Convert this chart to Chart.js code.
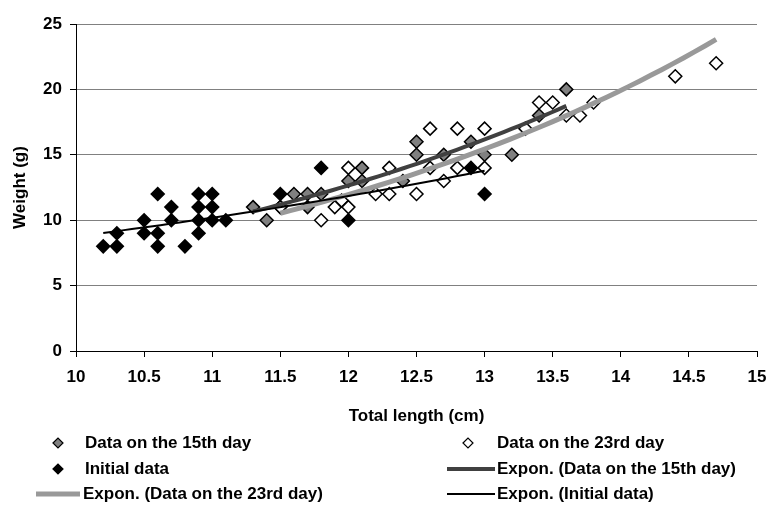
<!DOCTYPE html>
<html>
<head>
<meta charset="utf-8">
<script src="https://cdn.jsdelivr.net/npm/chart.js@4.4.1/dist/chart.umd.min.js"></script>
<style>
  html, body { margin: 0; padding: 0; background: #fff; }
  #wrap { width: 769px; height: 505px; }
</style>
</head>
<body>
<div id="wrap"><canvas id="c"></canvas></div>
<script>
// total length (cm) / weight (g) per sampling day
const day15X = [11.3, 11.4, 11.5, 11.6, 11.7, 11.7, 11.8, 12.0, 12.1, 12.1, 12.4, 12.5, 12.5, 12.7, 12.9, 13.0, 13.2, 13.4, 13.6]
const day15Y = [11, 10, 11, 12, 12, 11, 12, 13, 14, 13, 13, 16, 15, 15, 16, 15, 15, 18, 20]

const day23X = [11.5, 11.8, 11.9, 11.95, 12.0, 12.0, 12.2, 12.3, 12.3, 12.5, 12.6, 12.6, 12.7, 12.8, 12.8, 13.0, 13.0, 13.3, 13.4, 13.5, 13.6, 13.7, 13.8, 14.4, 14.7]
const day23Y = [11, 10, 11, 11.5, 11, 14, 12, 12, 14, 12, 17, 14, 13, 17, 14, 17, 14, 17, 19, 19, 18, 18, 19, 21, 22]

const initX = [10.2, 10.3, 10.3, 10.5, 10.5, 10.6, 10.6, 10.6, 10.7, 10.7, 10.8, 10.9, 10.9, 10.9, 10.9, 11.0, 11.0, 11.0, 11.1, 11.5, 11.8, 12.0, 12.9, 13.0]
const initY = [8, 8, 9, 10, 9, 12, 9, 8, 11, 10, 8, 12, 11, 10, 9, 12, 11, 10, 10, 12, 14, 10, 14, 12]

const xTicks = [10, 10.5, 11, 11.5, 12, 12.5, 13, 13.5, 14, 14.5, 15]
const yTicks = [0, 5, 10, 15, 20, 25]

const FONT = { family: '"Liberation Sans", Arial, sans-serif', size: 17, weight: 'bold' }

const toPoints = (xs, ys) => xs.map((x, i) => ({ x, y: ys[i] }))

// least squares fit of ln(y) = ln(a) + b*x, sampled over the data range
function expTrend(xs, ys, steps = 40) {
  const n = xs.length
  const ly = ys.map(Math.log)
  const mx = xs.reduce((s, v) => s + v, 0) / n
  const my = ly.reduce((s, v) => s + v, 0) / n
  let sxy = 0, sxx = 0
  xs.forEach((x, i) => { sxy += (x - mx) * (ly[i] - my); sxx += (x - mx) ** 2 })
  const b = sxy / sxx
  const a = Math.exp(my - b * mx)
  const lo = Math.min(...xs), hi = Math.max(...xs)
  const pts = []
  for (let i = 0; i <= steps; i++) {
    const x = lo + (hi - lo) * i / steps
    pts.push({ x, y: a * Math.exp(b * x) })
  }
  return pts
}

const marker = { pointStyle: 'rectRot', pointRadius: 6.5, pointBorderWidth: 1.5, pointBorderColor: '#000', showLine: false }
const trend = { showLine: true, pointRadius: 0, fill: false, tension: 0 }

const datasets = [
  { label: 'Expon. (Initial data)', data: expTrend(initX, initY), borderColor: '#000', borderWidth: 2, order: 1, ...trend },
  { label: 'Expon. (Data on the 23rd day)', data: expTrend(day23X, day23Y), borderColor: '#999999', borderWidth: 5, order: 2, ...trend },
  { label: 'Expon. (Data on the 15th day)', data: expTrend(day15X, day15Y), borderColor: '#404040', borderWidth: 4, order: 3, ...trend },
  { label: 'Initial data', data: toPoints(initX, initY), pointBackgroundColor: '#000', order: 4, ...marker },
  { label: 'Data on the 23rd day', data: toPoints(day23X, day23Y), pointBackgroundColor: '#fff', order: 5, ...marker },
  { label: 'Data on the 15th day', data: toPoints(day15X, day15Y), pointBackgroundColor: '#808080', order: 6, ...marker },
]

// two-column legend under the x axis title
const legendSlots = [
  { label: 'Data on the 15th day', x: 58, y: 443, tx: 85 },
  { label: 'Data on the 23rd day', x: 468, y: 443, tx: 497 },
  { label: 'Initial data', x: 58, y: 469, tx: 85 },
  { label: 'Expon. (Data on the 15th day)', x: 447, x2: 495, y: 469, tx: 497 },
  { label: 'Expon. (Data on the 23rd day)', x: 36, x2: 80, y: 494, tx: 83 },
  { label: 'Expon. (Initial data)', x: 447, x2: 495, y: 494, tx: 497 },
]

const legendPlugin = {
  id: 'sideLegend',
  afterDraw(chart) {
    const ctx = chart.ctx
    ctx.save()
    ctx.font = `${FONT.weight} ${FONT.size}px ${FONT.family}`
    ctx.textBaseline = 'middle'
    ctx.fillStyle = '#000'
    legendSlots.forEach(slot => {
      const ds = chart.data.datasets.find(d => d.label === slot.label)
      if (slot.x2) {
        ctx.strokeStyle = ds.borderColor
        ctx.lineWidth = ds.borderWidth
        ctx.beginPath()
        ctx.moveTo(slot.x, slot.y)
        ctx.lineTo(slot.x2, slot.y)
        ctx.stroke()
      } else {
        ctx.fillStyle = ds.pointBackgroundColor
        ctx.strokeStyle = '#000'
        ctx.lineWidth = 1.2
        Chart.helpers.drawPoint(ctx, { pointStyle: 'rectRot', radius: 5, borderWidth: 1.2 }, slot.x, slot.y)
      }
      ctx.fillStyle = '#000'
      ctx.fillText(slot.label, slot.tx, slot.y)
    })
    ctx.restore()
  },
}

new Chart(document.getElementById('c'), {
  type: 'scatter',
  data: { datasets },
  plugins: [legendPlugin],
  options: {
    responsive: true,
    maintainAspectRatio: false,
    animation: false,
    layout: { padding: { top: 24, right: 0, bottom: 78, left: 0 } },
    plugins: { legend: { display: false }, tooltip: { enabled: false } },
    scales: {
      x: {
        type: 'linear',
        min: 10,
        max: 15,
        afterBuildTicks: s => { s.ticks = xTicks.map(value => ({ value })) },
        afterFit: s => { s.height = 76; s.paddingRight = 12; s.paddingLeft = 0 },
        border: { color: '#000', width: 1 },
        grid: { drawOnChartArea: false, drawTicks: true, tickLength: 6, tickColor: '#000' },
        ticks: { color: '#000', font: FONT, padding: 10, maxRotation: 0, callback: v => String(v) },
        title: { display: true, text: 'Total length (cm)', color: '#000', font: FONT, padding: { top: 0, bottom: 0 } },
      },
      y: {
        type: 'linear',
        min: 0,
        max: 25,
        afterBuildTicks: s => { s.ticks = yTicks.map(value => ({ value })) },
        afterFit: s => { s.width = 76 },
        border: { color: '#000', width: 1 },
        grid: { color: '#808080', lineWidth: 1, drawTicks: true, tickLength: 6, tickColor: '#000' },
        ticks: { color: '#000', font: FONT, padding: 8, callback: v => String(v) },
        title: { display: true, text: 'Weight (g)', color: '#000', font: FONT, padding: { top: 10, bottom: 0 } },
      },
    },
  },
})
</script>
</body>
</html>
